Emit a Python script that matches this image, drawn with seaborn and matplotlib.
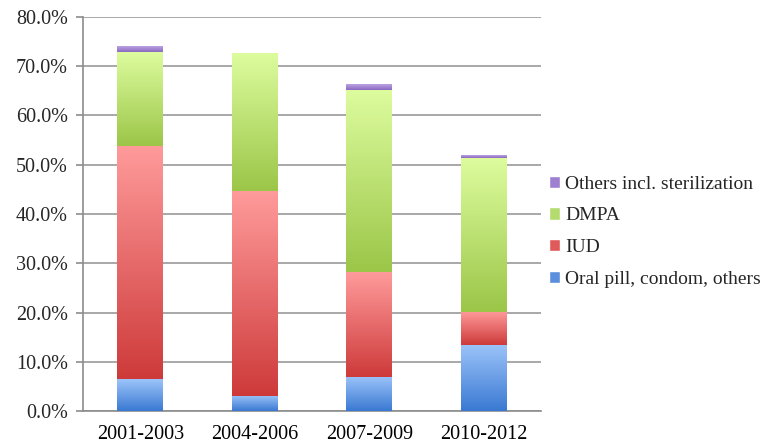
import numpy as np
import pandas as pd
import matplotlib
matplotlib.use("Agg")
import matplotlib.pyplot as plt
import seaborn as sns
from matplotlib.colors import LinearSegmentedColormap
from matplotlib.patches import Patch

###########################
# DATA
###########################
periods = ["2001-2003", "2004-2006", "2007-2009", "2010-2012"]
oral = [6.4, 3.1, 7.0, 13.4]
iud = [47.5, 41.5, 21.2, 6.8]
dmpa = [18.9, 28.0, 36.9, 31.2]
others = [1.1, 0.0, 1.2, 0.6]
series = ["Oral pill, condom, others", "IUD", "DMPA", "Others incl. sterilization"]

# gradient colours per series (top -> bottom of each segment)
top_colors = ["#9CC4FA", "#FF9B9B", "#DDFC9E", "#BBA3E4"]
bottom_colors = ["#3A79D2", "#CE3A3A", "#9BC648", "#8B68BF"]
legend_colors = ["#5B8FDD", "#E05A5A", "#B3DB6E", "#9E7FD0"]

df = pd.DataFrame({"period": periods, series[0]: oral, series[1]: iud,
                   series[2]: dmpa, series[3]: others})
df_cum = df.set_index("period").cumsum(axis=1).reset_index()

###########################
# PLOT
###########################
sns.set_style("white")
plt.rcParams["font.family"] = ["Liberation Serif", "DejaVu Serif"]

fig = plt.figure(figsize=(7.71, 4.47), dpi=100)
ax = fig.add_axes([0.1077, 0.0805, 0.594, 0.8815])

# draw cumulative bars, tallest first, then paint a gradient over each segment
layers = {}
for s in reversed(series):
    n0 = len(ax.patches)
    sns.barplot(data=df_cum, x="period", y=s, color="white", width=0.4,
                ax=ax, linewidth=0, zorder=1)
    layers[s] = ax.patches[n0:]

grad = np.linspace(1, 0, 256).reshape(-1, 1)
for i, s in enumerate(series):
    cmap = LinearSegmentedColormap.from_list(s, [bottom_colors[i], top_colors[i]])
    for j, p in enumerate(layers[s]):
        x0 = p.get_x()
        x1 = x0 + p.get_width()
        y1 = p.get_height()
        y0 = layers[series[i - 1]][j].get_height() if i > 0 else 0
        if y1 - y0 <= 0.01:
            continue
        ax.imshow(grad, cmap=cmap, extent=[x0, x1, y0, y1], aspect="auto",
                  vmin=0, vmax=1, zorder=3, interpolation="bilinear")

ax.set_xlim(-0.5, 3.5)
ax.set_ylim(0, 80)
ax.set_yticks(np.arange(0, 81, 10))
ax.set_yticklabels([f"{v:.1f}%" for v in np.arange(0, 81, 10)])
ax.set_xlabel("")
ax.set_ylabel("")

ax.grid(axis="y", color="#9a9a9a", linewidth=1.2, zorder=0)
ax.grid(axis="x", visible=False)
ax.set_axisbelow(True)
for sp in ["top", "right"]:
    ax.spines[sp].set_visible(False)
for sp in ["left", "bottom"]:
    ax.spines[sp].set_color("#8c8c8c")
    ax.spines[sp].set_linewidth(1.2)

ax.set_xticks(np.arange(-0.5, 4, 1), minor=True)
ax.tick_params(axis="x", which="major", length=0, labelsize=14.5, pad=10,
               colors="black")
ax.tick_params(axis="x", which="minor", length=5, color="#8c8c8c", width=1.2)
ax.tick_params(axis="y", length=5, color="#8c8c8c", width=1.2, labelsize=14.5,
               left=True, pad=6)

handles = [Patch(facecolor=legend_colors[i], label=series[i]) for i in range(4)][::-1]
ax.legend(handles=handles, loc="center left", bbox_to_anchor=(1.0, 0.455),
          frameon=False, fontsize=14, handlelength=0.6, handleheight=0.6,
          handletextpad=0.25, labelspacing=0.75, borderaxespad=0)

fig.savefig("out.png", dpi=100)
